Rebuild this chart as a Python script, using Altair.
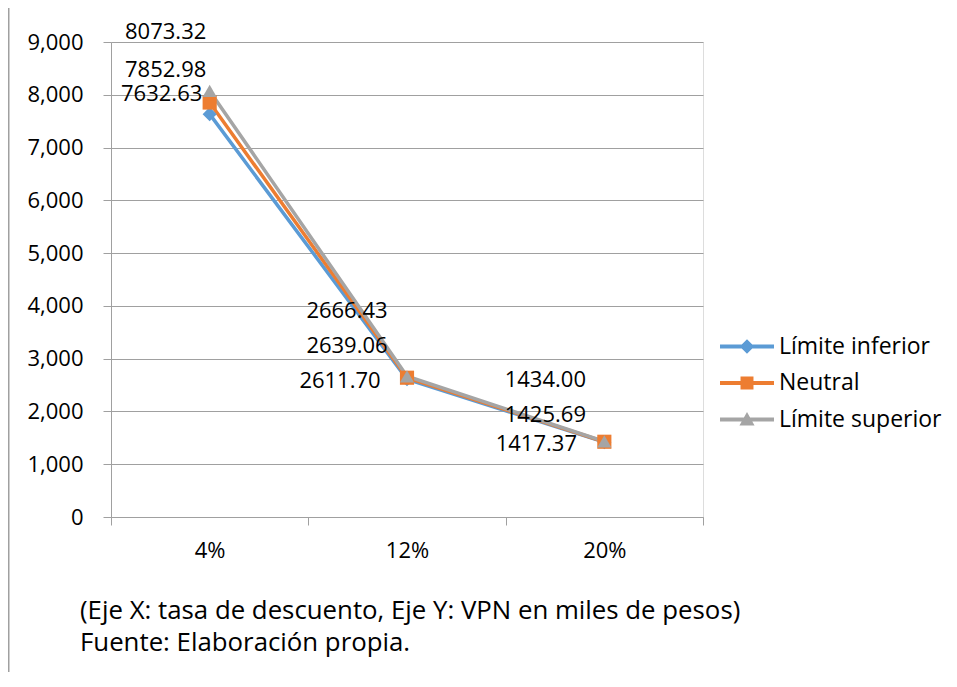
import altair as alt
import pandas as pd

# ---- data ----
categories = ["4%", "12%", "20%"]
series_names = ["Límite inferior", "Neutral", "Límite superior"]
limite_inferior = [7632.63, 2611.70, 1417.37]
neutral = [7852.98, 2639.06, 1425.69]
limite_superior = [8073.32, 2666.43, 1434.00]
y_ticks = [0, 1000, 2000, 3000, 4000, 5000, 6000, 7000, 8000, 9000]
caption = [
    "(Eje X: tasa de descuento, Eje Y: VPN en miles de pesos)",
    "Fuente: Elaboración propia.",
]

# ---- styling ----
colors = ["#5B9BD5", "#ED7D31", "#A5A5A5"]
point_shapes = ["diamond", "square", "triangle-up"]
# legend glyphs: a line with the series marker, drawn wider than the unit box
legend_shapes = [
    "M-2,-0.14H2V0.14H-2Z M0,-0.54L0.54,0L0,0.54L-0.54,0Z",
    "M-2,-0.14H2V0.14H-2Z M-0.48,-0.48H0.48V0.48H-0.48Z",
    "M-2,-0.14H2V0.14H-2Z M0,-0.56L0.56,0.44H-0.56Z",
]
FONT = "Open Sans"
FS = 22
GRID = "#a0a0a0"
W, H = 592, 475

# label offsets (pixels from the point), per series / category
label_offsets = {
    ("Límite superior", "4%"): (-44, -59),
    ("Neutral", "4%"): (-44, -33),
    ("Límite inferior", "4%"): (-48, -20),
    ("Límite superior", "12%"): (-60, -65),
    ("Neutral", "12%"): (-60, -32),
    ("Límite inferior", "12%"): (-67, 2),
    ("Límite superior", "20%"): (-59, -61),
    ("Neutral", "20%"): (-59, -27),
    ("Límite inferior", "20%"): (-68, 2),
}

rows = []
for name, vals in zip(series_names, [limite_inferior, neutral, limite_superior]):
    for cat, v in zip(categories, vals):
        rows.append({"serie": name, "serie_leg": name, "tasa": cat, "vpn": v})
df = pd.DataFrame(rows)

x_enc = alt.X(
    "tasa:N",
    sort=categories,
    scale=alt.Scale(paddingInner=0, paddingOuter=0),
    axis=alt.Axis(
        title=None,
        tickBand="extent",
        labelAngle=0,
        labelFont=FONT,
        labelFontSize=FS,
        labelColor="black",
        labelPadding=15,
        tickSize=8,
        tickColor=GRID,
        domainColor=GRID,
        grid=False,
    ),
)
y_enc = alt.Y(
    "vpn:Q",
    scale=alt.Scale(domain=[0, 9000], nice=False),
    axis=alt.Axis(
        title=None,
        values=y_ticks,
        format=",d",
        labelFont=FONT,
        labelFontSize=FS,
        labelColor="black",
        labelPadding=20,
        tickSize=8,
        tickColor=GRID,
        domainColor=GRID,
        gridColor=GRID,
        grid=True,
    ),
)
color_enc = alt.Color(
    "serie:N",
    scale=alt.Scale(domain=series_names, range=colors),
    legend=None,
)

base = alt.Chart(df)

lines = base.mark_line(strokeWidth=3.5).encode(x=x_enc, y=y_enc, color=color_enc)

points = base.mark_point(filled=True, opacity=1, size=200).encode(
    x=x_enc,
    y=y_enc,
    color=color_enc,
    shape=alt.Shape(
        "serie:N",
        scale=alt.Scale(domain=series_names, range=point_shapes),
        legend=None,
    ),
)

legend_layer = (
    base.transform_filter("false")
    .mark_point(filled=True, opacity=1)
    .encode(
        x=x_enc,
        y=y_enc,
        color=alt.Color(
            "serie_leg:N",
            scale=alt.Scale(domain=series_names, range=colors),
            legend=alt.Legend(
                title=None,
                orient="none",
                legendX=622.5,
                legendY=291,
                labelFont=FONT,
                labelFontSize=23,
                labelColor="black",
                labelLimit=400,
                labelOffset=18.5,
                symbolSize=729,
                symbolStrokeWidth=0,
                symbolOpacity=1,
                rowPadding=10.5,
            ),
        ),
        shape=alt.Shape(
            "serie_leg:N",
            scale=alt.Scale(domain=series_names, range=legend_shapes),
        ),
    )
)

labels = []
for (s, c), (dx, dy) in label_offsets.items():
    labels.append(
        base.transform_filter((alt.datum.serie == s) & (alt.datum.tasa == c))
        .mark_text(dx=dx, dy=dy, font=FONT, fontSize=FS, color="black", baseline="middle", align="center")
        .encode(x=x_enc, y=y_enc, text=alt.Text("vpn:Q", format=".2f"))
    )

frame_data = alt.Data(values=[{"k": 1}])
frame_top = alt.Chart(frame_data).mark_rule(color=GRID, strokeWidth=2).encode(
    x=alt.value(-103), x2=alt.value(W + 260), y=alt.value(-35)
)
frame_left = alt.Chart(frame_data).mark_rule(color=GRID, strokeWidth=2).encode(
    x=alt.value(-102.5), y=alt.value(-36), y2=alt.value(H + 170)
)

chart = (
    alt.layer(frame_top, frame_left, lines, points, legend_layer, *labels)
    .resolve_scale(color="independent", shape="independent")
    .properties(
        width=W,
        height=H,
        autosize=alt.AutoSizeParams(type="none"),
        padding={"left": 103, "top": 34, "right": 240, "bottom": 155},
        title=alt.TitleParams(
            text=caption,
            orient="bottom",
            anchor="start",
            frame="group",
            dx=-31,
            offset=-89,
            font=FONT,
            fontSize=25.8,
            fontWeight="normal",
            color="black",
            lineHeight=32,
        ),
    )
    .configure_view(stroke=None)
    .configure(background="white")
)

chart.save("out.html", embed_options={"renderer": "svg", "actions": False})
